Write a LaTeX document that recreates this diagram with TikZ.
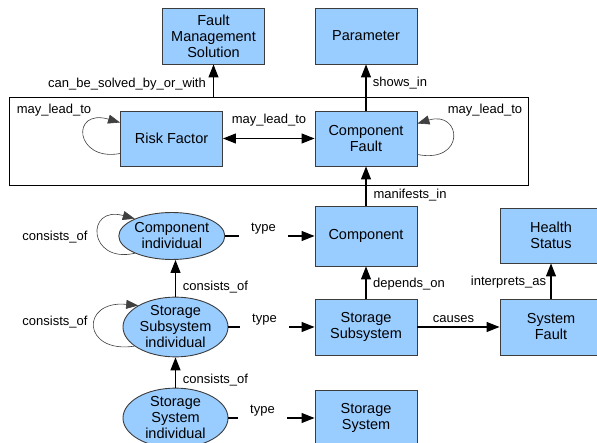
\documentclass[tikz,border=0pt]{standalone}
\usepackage{fontspec}
\setmainfont{Liberation Sans}
\usetikzlibrary{arrows.meta,shapes.geometric}
\definecolor{boxblue}{RGB}{153,204,255}
\definecolor{edgegray}{RGB}{60,60,60}
\begin{document}
\begin{tikzpicture}[x=1pt,y=-1pt,
  box/.style={draw=edgegray, fill=boxblue, line width=0.9pt, minimum width=102pt, minimum height=56pt, align=center, inner sep=0pt, font=\fontsize{14.5}{16}\selectfont},
  ell/.style={ellipse, draw=edgegray, fill=boxblue, line width=0.9pt, align=center, inner sep=0pt, font=\fontsize{14.5}{16}\selectfont},
  arr/.style={line width=1.2pt, -{Triangle[length=13pt,width=10pt]}},
  darr/.style={line width=1.2pt, {Triangle[length=13pt,width=10pt]}-{Triangle[length=13pt,width=10pt]}},
  selfloop/.style={line width=0.6pt, draw=black!75, -{Triangle[length=12pt,width=9pt]}},
  lbl/.style={inner sep=0pt, font=\fontsize{13}{15}\selectfont},
  typelbl/.style={fill=white, inner xsep=12pt, inner ysep=2pt, font=\fontsize{13}{15}\selectfont}
]
\useasboundingbox (0,0) rectangle (597,443);

% container
\node[draw=black, line width=0.9pt, minimum width=519pt, minimum height=88pt, inner sep=0pt] (cont) at (268.5,141) {};

% boxes
\node[box] (fms) at (213.5,36) {Fault\\Management\\Solution};
\node[box] (param) at (366,36) {Parameter};
\node[box, minimum height=55pt] (rf) at (171.5,138.5) {Risk Factor};
\node[box, minimum height=55pt] (cf) at (366,138.5) {Component\\Fault};
\node[box, minimum height=60pt] (comp) at (366,236) {Component};
\node[box, minimum height=55pt] (hs) at (551,235.5) {Health\\Status};
\node[box] (ss) at (366,327) {Storage\\Subsystem};
\node[box] (sf) at (551,327) {System\\Fault};
\node[box] (sys) at (366,418) {Storage\\System};

% ellipses
\node[ell, minimum width=85pt, minimum height=47pt] (ci) at (171.8,236) {Component\\individual};
\node[ell, minimum width=105pt, minimum height=57pt] (ssi) at (175.5,327) {Storage\\Subsystem\\individual};
\node[ell, minimum width=105pt, minimum height=57pt] (syi) at (175.5,418) {Storage\\System\\individual};

% arrows
\draw[arr] (fms.south |- cont.north) -- (fms.south);
\draw[arr] (cf) -- (param);
\draw[darr] (rf) -- (cf);
\draw[arr] (comp) -- (cf);
\draw[arr] (ss) -- (comp);
\draw[arr] (ss) -- (sf);
\draw[arr] (sf) -- (hs);
\draw[arr] (ssi.north) -- (ssi.north |- ci.south);
\draw[arr] (syi) -- (ssi);
\draw[arr] (ci) -- (comp);
\draw[arr] (ssi) -- (ss);
\draw[arr] (syi) -- (sys);

% self loops
\draw[selfloop] ([yshift=-15pt]rf.west) .. controls (75,162) and (70,108) .. ([yshift=16pt]rf.west);
\draw[selfloop] ([yshift=-16pt]cf.east) .. controls (466,164) and (462,110) .. ([yshift=15pt]cf.east);
\draw[selfloop] (ci.205) .. controls (88,264) and (85,205) .. (ci.155);
\draw[selfloop] (ssi.205) .. controls (82,354) and (80,300) .. (ssi.150);

% labels
\node[lbl] (l1) at (127,84) {can\_be\_solved\_by\_or\_with};
\node[lbl] (l2) at (54,110) {may\_lead\_to};
\node[lbl] (l3) at (269,120) {may\_lead\_to};
\node[lbl] (l4) at (485,110) {may\_lead\_to};
\node[lbl] (l5) at (400,83) {shows\_in};
\node[lbl] (l6) at (410,195) {manifests\_in};
\node[lbl] (l7) at (55,237) {consists\_of};
\node[lbl] (l8) at (215.5,287) {consists\_of};
\node[lbl] (l9) at (55,322) {consists\_of};
\node[lbl] (l10) at (215.5,380) {consists\_of};
\node[lbl] (l11) at (409,284) {depends\_on};
\node[lbl] (l12) at (453.5,319) {causes};
\node[lbl] (l13) at (508.5,282) {interprets\_as};
\node[typelbl] (t1) at (263.5,229) {type};
\node[typelbl] (t2) at (264.5,320) {type};
\node[typelbl] (t3) at (262.5,411) {type};
\end{tikzpicture}
\end{document}
